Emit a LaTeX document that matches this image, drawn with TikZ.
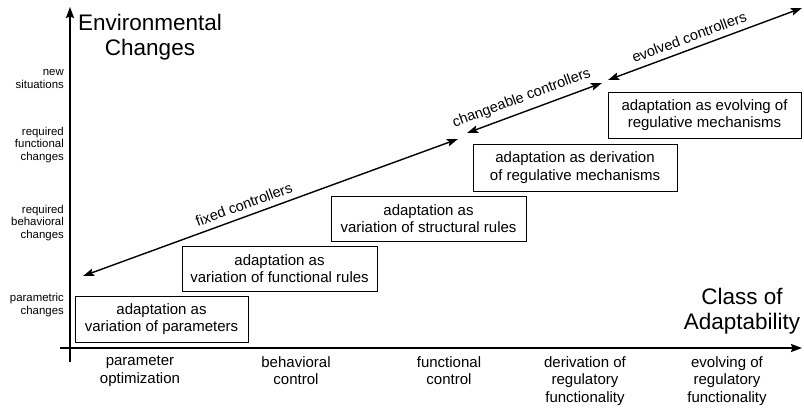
\documentclass[tikz,border=0pt]{standalone}
\usepackage{fontspec}
\setmainfont{Liberation Sans}
\usetikzlibrary{arrows.meta}
\begin{document}
\begin{tikzpicture}[x=1pt,y=-1pt,
  boxnode/.style={draw, line width=0.9pt, align=center, font=\fontsize{15}{17.5}\selectfont, inner sep=0pt},
  xlabel/.style={align=center, anchor=north, inner sep=0pt, font=\fontsize{15}{17.7}\selectfont},
  ylabel/.style={align=right, anchor=east, inner sep=0pt, font=\fontsize{11.4}{12.7}\selectfont},
  titlelabel/.style={align=center, inner sep=0pt, font=\fontsize{22.5}{25}\selectfont},
  axis/.style={line width=1.8pt, -{Stealth[length=11pt,width=8pt,inset=1.5pt]}},
  ctrl/.style={line width=1.4pt, {Stealth[length=11pt,width=7.5pt,inset=2pt]}-{Stealth[length=11pt,width=7.5pt,inset=2pt]}},
  ctrllabel/.style={sloped, above, pos=0.44, inner sep=6pt, font=\fontsize{14.5}{16}\selectfont}]
\useasboundingbox (0,0) rectangle (804,408);

% axes
\coordinate (ybot) at (70,362);
\coordinate (ytop) at (70,7);
\coordinate (xleft) at (60,348);
\coordinate (xright) at (802,348);
\draw[axis] (ybot) -- (ytop);
\draw[axis] (xleft) -- (xright);

% titles
\node[titlelabel] (envtitle) at (150,36.7) {Environmental\\Changes};
\node[titlelabel] (classtitle) at (742,311) {Class of\\Adaptability};

% y labels
\node[ylabel] (yl4) at (64,79) {new\\situations};
\node[ylabel] (yl3) at (64,145) {required\\functional\\changes};
\node[ylabel] (yl2) at (64,223) {required\\behavioral\\changes};
\node[ylabel] (yl1) at (64,305) {parametric\\changes};

% x labels
\node[xlabel] (xl1) at (140,356) {parameter\\optimization};
\node[xlabel] (xl2) at (296,356) {behavioral\\control};
\node[xlabel] (xl3) at (449,356) {functional\\control};
\node[xlabel] (xl4) at (585,356) {derivation of\\regulatory\\functionality};
\node[xlabel] (xl5) at (727,356) {evolving of\\regulatory\\functionality};

% boxes
\node[boxnode, minimum width=173pt, minimum height=46pt] (b1) at (161.5,319) {adaptation as\\variation of parameters};
\node[boxnode, minimum width=195pt, minimum height=45pt] (b2) at (279.5,268.5) {adaptation as\\variation of functional rules};
\node[boxnode, minimum width=195pt, minimum height=45pt] (b3) at (428.5,218.5) {adaptation as\\variation of structural rules};
\node[boxnode, minimum width=204pt, minimum height=47pt] (b4) at (575,167.5) {adaptation as derivation\\of regulative mechanisms};
\node[boxnode, minimum width=193pt, minimum height=46pt] (b5) at (704.5,115) {adaptation as evolving of\\regulative mechanisms};

% controller arrows
\coordinate (f1) at (83,276);
\coordinate (f2) at (458,139);
\coordinate (c1) at (467,133);
\coordinate (c2) at (602,83);
\coordinate (e1) at (608,80);
\coordinate (e2) at (802,8);
\draw[ctrl] (f1) -- node[ctrllabel] (fl) {fixed controllers} (f2);
\draw[ctrl] (c1) -- node[ctrllabel] (cl) {changeable controllers} (c2);
\draw[ctrl] (e1) -- node[ctrllabel] (el) {evolved controllers} (e2);
\end{tikzpicture}
\end{document}
